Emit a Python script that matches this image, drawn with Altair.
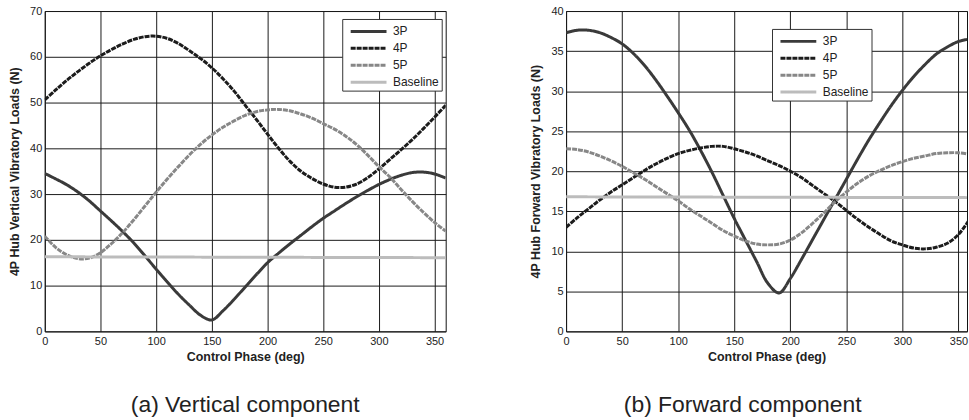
import altair as alt
import pandas as pd

DEG = list(range(0, 361, 10))
BASE_DEG = [0, 360]
SERIES = ["3P", "4P", "5P", "Baseline"]

# (a) Vertical component
V_3P = [34.5, 33.3, 32.0, 30.4, 28.5, 26.3, 24.1, 21.8, 19.3, 16.5,
        13.6, 10.8, 8.1, 5.7, 3.5, 2.5, 4.5, 7.0, 9.7, 12.4,
        15.0, 17.1, 19.1, 21.0, 22.9, 24.7, 26.3, 27.9, 29.4, 30.8,
        32.1, 33.2, 34.1, 34.7, 34.8, 34.4, 33.5]
V_4P = [50.6, 52.8, 54.9, 56.8, 58.6, 60.2, 61.6, 62.8, 63.8, 64.4,
        64.5, 64.0, 62.9, 61.3, 59.6, 57.6, 55.2, 52.5, 49.4, 46.3,
        43.1, 40.0, 37.2, 35.0, 33.4, 32.2, 31.5, 31.5, 32.2, 33.6,
        35.5, 37.6, 39.7, 41.9, 44.3, 46.8, 49.4]
V_5P = [20.8, 18.3, 16.7, 15.9, 16.0, 17.2, 19.2, 21.6, 24.4, 27.4,
        30.4, 33.3, 36.0, 38.6, 40.9, 42.9, 44.6, 46.0, 47.2, 48.0,
        48.4, 48.5, 48.2, 47.5, 46.6, 45.4, 44.2, 42.7, 40.8, 38.5,
        36.0, 33.7, 31.0, 28.4, 26.0, 23.8, 21.9]
V_BASE = [16.3, 16.1]

# (b) Forward component
F_3P = [37.3, 37.6, 37.6, 37.3, 36.7, 35.9, 34.7, 33.2, 31.4, 29.4,
        27.3, 25.1, 22.6, 19.9, 17.0, 14.1, 11.4, 8.7, 6.0, 4.8,
        6.6, 9.0, 11.5, 14.0, 16.5, 19.0, 21.5, 23.9, 26.1, 28.2,
        30.1, 31.8, 33.3, 34.6, 35.5, 36.2, 36.5]
F_4P = [13.0, 14.2, 15.3, 16.4, 17.4, 18.3, 19.2, 20.1, 20.9, 21.6,
        22.2, 22.6, 22.9, 23.1, 23.1, 22.8, 22.4, 21.9, 21.3, 20.7,
        20.0, 19.2, 18.2, 17.2, 16.2, 15.1, 14.0, 13.0, 12.1, 11.3,
        10.8, 10.4, 10.3, 10.5, 11.0, 12.1, 14.0]
F_5P = [22.8, 22.7, 22.4, 21.9, 21.3, 20.6, 19.8, 19.0, 18.1, 17.2,
        16.3, 15.3, 14.4, 13.5, 12.6, 11.9, 11.3, 10.9, 10.8, 10.9,
        11.4, 12.3, 13.5, 14.8, 16.2, 17.4, 18.5, 19.4, 20.1, 20.7,
        21.2, 21.6, 21.9, 22.2, 22.3, 22.3, 22.1]
F_BASE = [16.8, 16.7]

X_TICKS = [0, 50, 100, 150, 200, 250, 300, 350]
V_TICKS = [0, 10, 20, 30, 40, 50, 60, 70]
F_TICKS = [0, 5, 10, 15, 20, 25, 30, 35, 40]

COLORS = ["#3a3a3a", "#1c1c1c", "#878787", "#bcbcbc"]
DASHES = [[1, 0], [5, 1], [5, 1], [1, 0]]
FONT = "Liberation Sans"


def long_frame(cols):
    rows = []
    for name, vals in zip(SERIES, cols):
        degs = DEG if len(vals) == len(DEG) else BASE_DEG
        for d, v in zip(degs, vals):
            rows.append({"deg": d, "val": v, "series": name})
    return pd.DataFrame(rows)


def panel(df, ytitle, yticks, xmax, width, lx, ly, caption, cdx):
    leg = dict(title=None, orient="none", legendX=lx, legendY=ly,
               fillColor="white", strokeColor="#333333", padding=2,
               symbolType="M-2,0H2", symbolSize=324, symbolStrokeWidth=3,
               symbolOffset=14,
               labelFont=FONT, labelFontSize=12, labelColor="#222222",
               labelOffset=14, rowPadding=0, cornerRadius=0,
               labelExpr="datum.label + '\u00a0\u00a0'")
    return alt.Chart(df).mark_line(strokeWidth=3, clip=True, interpolate="catmull-rom").encode(
        x=alt.X("deg:Q",
                scale=alt.Scale(domain=[0, xmax], nice=False, zero=False),
                axis=alt.Axis(values=X_TICKS, title="Control Phase (deg)",
                              labelFlush=False, titlePadding=4, labelPadding=4)),
        y=alt.Y("val:Q",
                scale=alt.Scale(domain=[yticks[0], yticks[-1]], nice=False),
                axis=alt.Axis(values=yticks, title=ytitle, labelFlush=False,
                              titlePadding=8, labelPadding=3)),
        color=alt.Color("series:N", sort=SERIES,
                        scale=alt.Scale(domain=SERIES, range=COLORS),
                        legend=alt.Legend(**leg)),
        strokeDash=alt.StrokeDash("series:N", sort=SERIES,
                                  scale=alt.Scale(domain=SERIES, range=DASHES),
                                  legend=alt.Legend(**leg)),
    ).properties(
        width=width, height=322,
        title=alt.TitleParams(caption, orient="bottom", anchor="middle",
                              font=FONT, fontSize=23, fontWeight="normal",
                              color="#222222", baseline="top", offset=32, dx=cdx),
    )


left = panel(long_frame([V_3P, V_4P, V_5P, V_BASE]),
             "4P Hub Vertical Vibratory Loads (N)", V_TICKS, 360, 403,
             299, 8, "(a) Vertical component", 0)
right = panel(long_frame([F_3P, F_4P, F_5P, F_BASE]),
              "4P Hub Forward Vibratory Loads (N)", F_TICKS, 357.6, 403,
              207, 18, "(b) Forward component", -24)

chart = alt.hconcat(left, right, spacing=83).resolve_scale(
    color="independent", strokeDash="independent"
).resolve_legend(
    color="independent", strokeDash="independent"
).properties(
    padding={"left": 8, "top": 3, "right": 0, "bottom": 0},
    background="white",
).configure_view(
    stroke="#111111", strokeWidth=1
).configure_axis(
    domain=False, ticks=False, grid=True, gridColor="#1a1a1a",
    gridOpacity=1, gridWidth=1,
    labelFont=FONT, labelFontSize=11, labelColor="#222222",
    titleFont=FONT, titleFontSize=12.5, titleFontWeight="bold", titleColor="#222222",
)

chart.save("out.html", embed_options={"renderer": "svg", "actions": False})
